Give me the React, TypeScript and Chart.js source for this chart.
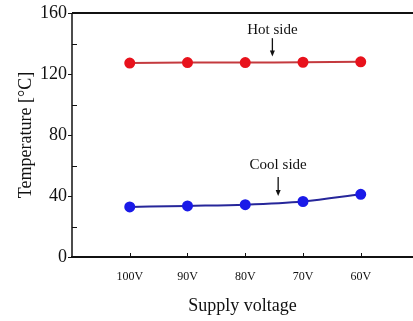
import React, { useEffect, useRef } from "react";
import { Chart, registerables } from "chart.js";

Chart.register(...registerables);

const categories = ["100V", "90V", "80V", "70V", "60V"];
const hotSide = [127.2, 127.5, 127.5, 127.7, 128];
const coolSide = [32.8, 33.5, 34.3, 36.4, 41.1];
const yMajorTicks = [0, 40, 80, 120, 160];
const yMinorTicks = [20, 60, 100, 140];
const annotations = [
  { text: "Hot side", x: 3.47, textY: 149, arrowFrom: 143.5, arrowTo: 131.5 },
  { text: "Cool side", x: 3.57, textY: 60.5, arrowFrom: 52.5, arrowTo: 40 },
];

const FONT = "'Liberation Serif', 'DejaVu Serif', serif";
const INK = "#111";

const decorPlugin = {
  id: "decor",
  afterDraw(chart: any) {
    const ctx = chart.ctx;
    const { left, right, top, bottom } = chart.chartArea;
    const xs = chart.scales.x;
    const ys = chart.scales.y;
    ctx.save();
    ctx.strokeStyle = INK;
    ctx.lineWidth = 2;
    ctx.beginPath();
    ctx.moveTo(left, top);
    ctx.lineTo(right, top);
    ctx.moveTo(left - 1, bottom);
    ctx.lineTo(right, bottom);
    ctx.stroke();
    ctx.lineWidth = 1.5;
    ctx.beginPath();
    ctx.moveTo(left, top);
    ctx.lineTo(left, bottom);
    ctx.stroke();
    ctx.lineWidth = 1;
    ctx.beginPath();
    yMajorTicks.forEach((v) => {
      const py = Math.round(ys.getPixelForValue(v)) + 0.5;
      ctx.moveTo(left - 4, py);
      ctx.lineTo(left, py);
    });
    yMinorTicks.forEach((v) => {
      const py = Math.round(ys.getPixelForValue(v)) + 0.5;
      ctx.moveTo(left, py);
      ctx.lineTo(left + 5, py);
    });
    categories.forEach((_, i) => {
      const px = Math.round(xs.getPixelForValue(i + 1)) + 0.5;
      ctx.moveTo(px, bottom);
      ctx.lineTo(px, bottom - 4);
    });
    ctx.stroke();
    ctx.fillStyle = INK;
    ctx.font = `15px ${FONT}`;
    ctx.textAlign = "center";
    ctx.textBaseline = "middle";
    annotations.forEach((a) => {
      const px = xs.getPixelForValue(a.x);
      ctx.fillText(a.text, px, ys.getPixelForValue(a.textY));
      const y1 = ys.getPixelForValue(a.arrowFrom);
      const y2 = ys.getPixelForValue(a.arrowTo);
      ctx.lineWidth = 1.3;
      ctx.beginPath();
      ctx.moveTo(px, y1);
      ctx.lineTo(px, y2 - 4);
      ctx.stroke();
      ctx.beginPath();
      ctx.moveTo(px, y2);
      ctx.lineTo(px - 2.5, y2 - 6);
      ctx.lineTo(px + 2.5, y2 - 6);
      ctx.closePath();
      ctx.fill();
    });
    ctx.restore();
  },
};

export default function App() {
  const ref = useRef<HTMLCanvasElement | null>(null);
  useEffect(() => {
    document.body.style.margin = "0";
    if (!ref.current) return;
    const chart = new Chart(ref.current, {
      type: "line",
      data: {
        datasets: [
          {
            label: "Hot side",
            data: hotSide.map((y, i) => ({ x: i + 1, y })),
            borderColor: "#c43a3e",
            backgroundColor: "#e8121c",
            pointBackgroundColor: "#e8121c",
            pointBorderColor: "#e8121c",
            pointRadius: 4.5,
            borderWidth: 2,
            tension: 0.4,
          },
          {
            label: "Cool side",
            data: coolSide.map((y, i) => ({ x: i + 1, y })),
            borderColor: "#26269a",
            backgroundColor: "#1a1ae8",
            pointBackgroundColor: "#1a1ae8",
            pointBorderColor: "#1a1ae8",
            pointRadius: 4.5,
            borderWidth: 2,
            cubicInterpolationMode: "monotone",
          },
        ],
      },
      plugins: [decorPlugin],
      options: {
        animation: false,
        responsive: false,
        maintainAspectRatio: false,
        layout: { autoPadding: false, padding: { top: 13, right: 0, left: 0, bottom: 0 } },
        plugins: {
          legend: { display: false },
          tooltip: { enabled: false },
        },
        scales: {
          x: {
            type: "linear",
            min: 0,
            max: 5.905,
            afterFit: (s: any) => {
              s.height = 64;
              s.paddingLeft = 0;
              s.paddingRight = 0;
            },
            afterBuildTicks: (s: any) => {
              s.ticks = categories.map((_, i) => ({ value: i + 1 }));
            },
            ticks: {
              callback: (v: any) => categories[Number(v) - 1] ?? "",
              color: INK,
              font: { family: FONT, size: 12 },
              padding: 13,
              maxRotation: 0,
              autoSkip: false,
            },
            grid: { display: false, drawTicks: false },
            border: { display: false },
            title: {
              display: true,
              text: "Supply voltage",
              color: INK,
              font: { family: FONT, size: 18 },
              padding: { top: 8 },
            },
          },
          y: {
            min: 0,
            max: 160,
            afterFit: (s: any) => {
              s.width = 72;
              s.paddingTop = 0;
              s.paddingBottom = 0;
            },
            afterBuildTicks: (s: any) => {
              s.ticks = yMajorTicks.map((v) => ({ value: v }));
            },
            ticks: {
              color: INK,
              font: { family: FONT, size: 18 },
              padding: 5,
            },
            grid: { display: false, drawTicks: false },
            border: { display: false },
            title: {
              display: true,
              text: "Temperature [°C]",
              color: INK,
              font: { family: FONT, size: 18 },
              padding: { top: 15, bottom: 0 },
            },
          },
        },
      },
    } as any);
    return () => chart.destroy();
  }, []);
  return (
    <div style={{ width: 413, height: 321 }}>
      <canvas ref={ref} width={413} height={321} style={{ display: "block" }} />
    </div>
  );
}
